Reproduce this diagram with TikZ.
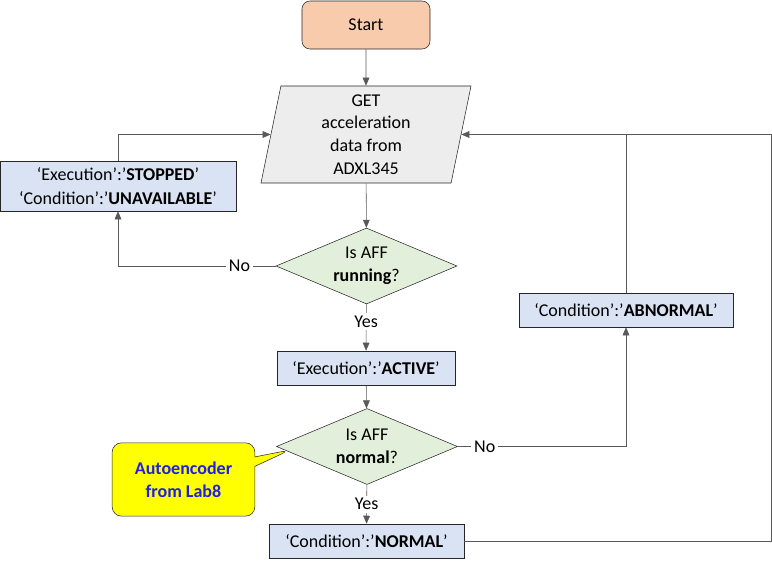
\documentclass[tikz,border=0pt]{standalone}
\usepackage{fontspec}
\setmainfont{Carlito}
\usetikzlibrary{shapes.geometric, shapes.callouts, arrows.meta, positioning, calc}
\usepackage{xcolor}
\definecolor{StartBg}{HTML}{F8CBAD}
\definecolor{IoBg}{HTML}{EDEDED}
\definecolor{StateBg}{HTML}{DAE3F3}
\definecolor{AskBg}{HTML}{E2EFDA}
\definecolor{NoteBg}{HTML}{FFFF00}
\definecolor{NoteText}{HTML}{1F1FE8}
\definecolor{Wire}{HTML}{595959}
\definecolor{Edge}{HTML}{262626}

\begin{document}
\begin{tikzpicture}[x=0.75pt, y=-0.75pt,
            every node/.style={font=\fontsize{13.5}{17}\selectfont},
            startbox/.style={rectangle, draw=Edge, fill=StartBg, rounded corners=6pt, minimum width=96pt, minimum height=36pt, align=center},
            iobox/.style={trapezium, trapezium left angle=76, trapezium right angle=104, trapezium stretches body, draw=Edge, fill=IoBg, minimum width=157.5pt, minimum height=72.75pt, inner sep=0pt, align=center},
            block/.style={rectangle, draw=Edge, fill=StateBg, minimum height=25.5pt, inner sep=2pt, align=center},
            decision/.style={diamond, aspect=2.38, draw=Edge, fill=AskBg, minimum width=135.75pt, minimum height=57pt, inner sep=0pt, align=center},
            note/.style={rectangle callout, draw=Edge, fill=NoteBg, rounded corners=7pt, minimum width=107pt, minimum height=55pt, align=center, text=NoteText, font=\fontsize{13.5}{17}\selectfont\bfseries},
            arrow/.style={-{Triangle[length=6pt, width=5pt]}, color=Wire},
            line/.style={color=Wire},
            lbl/.style={fill=white, text=black, inner sep=2pt}
        ]
            \useasboundingbox (0,0) rectangle (772,564);

            % Main column
            \node[startbox] (start) at (366,25) {Start};
            \node[iobox] (get) at (366,134.5) {GET\\acceleration\\data from\\ADXL345};
            \node[decision] (run) at (366.5,266) {Is AFF\\\textbf{running}?};
            \node[block, minimum width=133.5pt] (active) at (366,368) {‘Execution’:’\textbf{ACTIVE}’};
            \node[decision] (norm) at (367,446.5) {Is AFF\\\textbf{normal}?};
            \node[block, minimum width=146.25pt] (normal) at (366.5,541) {‘Condition’:’\textbf{NORMAL}’};

            % Side states
            \node[block, minimum width=177pt, minimum height=37.5pt, text depth=0pt] (stopped) at (118,186) {‘Execution’:’\textbf{STOPPED}’\\[1pt]‘Condition’:’\textbf{UNAVAILABLE}’};
            \node[block, minimum width=160.5pt] (abnormal) at (626,310) {‘Condition’:’\textbf{ABNORMAL}’};

            % Note
            \node[note, callout absolute pointer={(290,450)}] (ae) at (183.5,479.5) {Autoencoder\\from Lab8};

            % Connections
            \coordinate (loop) at (771,134.5);
            \draw[arrow] (start) -- (get);
            \draw[arrow] (get) -- (run);
            \draw[arrow] (run.west) -| node[lbl, pos=0.115]{No} (stopped.south);
            \draw[arrow] (stopped.north) |- (get.west);
            \draw[arrow] (run) -- node[lbl, pos=0.38]{Yes} (active);
            \draw[arrow] (active) -- (norm);
            \draw[arrow] (norm) -- node[lbl]{Yes} (normal);
            \draw[arrow] (norm.east) -| node[lbl, pos=0.08]{No} (abnormal.south);
            \draw[arrow] (abnormal.north) |- (get.east);
            \draw[line] (normal.east) -| (loop) -- (abnormal.north |- loop);
        \end{tikzpicture}
\end{document}
